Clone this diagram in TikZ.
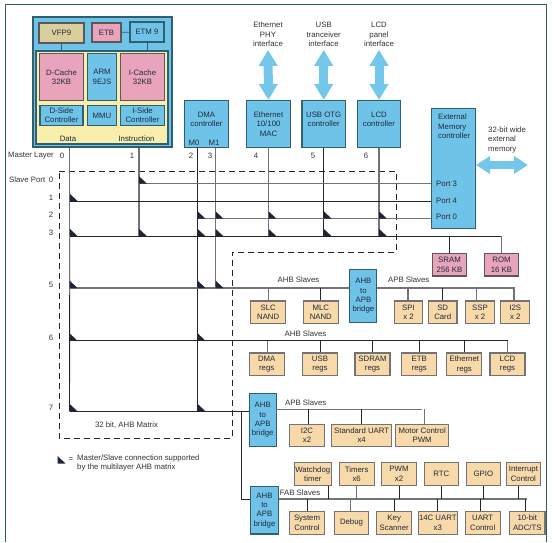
\documentclass[tikz,border=0pt]{standalone}
\usepackage{fontspec}
\setmainfont{Liberation Sans}
\usepackage{tikz}
\usetikzlibrary{arrows.meta,calc}
\definecolor{frameteal}{HTML}{2F5F5C}
\definecolor{edgeblue}{HTML}{2F6070}
\definecolor{socblue}{HTML}{6FC3E9}
\definecolor{socpink}{HTML}{E9A3BB}
\definecolor{soctan}{HTML}{D9CF9C}
\definecolor{socyellow}{HTML}{F9EEAB}
\definecolor{socorange}{HTML}{F8D9A9}
\definecolor{arrowblue}{HTML}{74C6EA}
\definecolor{inkdark}{HTML}{1F2A3A}
\newcommand{\xcon}[2]{\fill[inkdark!90!black] (#1,#2) -- ++(0,-7.5) -- ++(8,7.5) -- cycle;}

\begin{document}
\begin{tikzpicture}[
		x=1pt, y=-1pt,
		every node/.style={font=\fontsize{7.8}{9.4}\selectfont, text=inkdark, inner sep=0pt},
		box/.style={draw=edgeblue, line width=1.1pt, align=center},
		blue/.style={box, fill=socblue},
		pink/.style={box, fill=socpink, draw=black!65},
		tan/.style={box, fill=soctan, draw=black!65},
		slave/.style={box, fill=socorange, draw=black!55},
		lab/.style={align=center, text=black!80},
		bus/.style={draw=black!85, line width=0.9pt},
		busg/.style={draw=black!55, line width=1.1pt},
		wide/.style={draw=arrowblue, line width=9pt, {Triangle[length=16pt,width=18pt]}-{Triangle[length=16pt,width=18pt]}},
		matrix line/.style={dash pattern=on 6pt off 4pt, line width=0.9pt, draw=black!85}
		]
		\useasboundingbox (0,0) rectangle (554,542);
		
		% Frame
		\draw[frameteal, line width=1pt] (5.5,542) -- (5.5,4) -- (546,4) -- (546,542);
		
		% -------------------------
		% CPU block
		% -------------------------
		\node[blue, minimum width=139pt, minimum height=130pt] (cpu) at (102.5,82) {};
		\node[box, fill=socyellow, minimum width=132pt, minimum height=93pt] (core) at (102,97.5) {};
		\node[tan, minimum width=45pt, minimum height=20pt] (vfp) at (61.5,33) {VFP9};
		\node[pink, minimum width=29pt, minimum height=19pt] (etb) at (106.5,32.5) {ETB};
		\node[blue, minimum width=34pt, minimum height=20pt] (etm) at (147,32) {ETM 9};
		\node[pink, minimum width=44pt, minimum height=47pt] (dcache) at (61.5,77) {D-Cache\\32KB};
		\node[blue, minimum width=29pt, minimum height=47pt] (arm) at (102,77) {ARM\\9EJS};
		\node[pink, minimum width=44pt, minimum height=47pt] (icache) at (142.5,77) {I-Cache\\32KB};
		\node[blue, minimum width=43pt, minimum height=20pt] (dside) at (61.5,115.5) {D-Side\\Controller};
		\node[blue, minimum width=29.5pt, minimum height=20pt] (mmu) at (102,115.5) {MMU};
		\node[blue, minimum width=44pt, minimum height=20pt] (iside) at (142.5,115.5) {I-Side\\Controller};
		\node (data) at (68,139) {Data};
		\node (instr) at (136.5,139) {Instruction};
		\draw[edgeblue, line width=0.8pt] (vfp.south) -- (vfp.south |- core.north);
		\draw[edgeblue, line width=0.8pt] (etm.south) -- (etm.south |- core.north);
		\draw[edgeblue, line width=0.8pt] (etb) -- (etm);
		
		% -------------------------
		% Masters
		% -------------------------
		\node[blue, minimum width=44pt, minimum height=47pt] (dma) at (206.5,124) {DMA\\controller\\~};
		\node (mzero) at (194,143) {M0};
		\node (mone) at (214,143) {M1};
		\node[blue, minimum width=44pt, minimum height=47pt] (eth) at (268.5,124) {Ethernet\\10/100\\MAC};
		\node[blue, minimum width=43.5pt, minimum height=47pt] (usb) at (323.7,124) {USB OTG\\controller\\~};
		\node[blue, minimum width=43.5pt, minimum height=47pt] (lcd) at (379,124) {LCD\\controller\\~};
		\node[lab] (ethif) at (268,34.5) {Ethernet\\PHY\\interface};
		\node[lab] (usbif) at (323.7,34.5) {USB\\tranceiver\\interface};
		\node[lab] (lcdif) at (379,34.5) {LCD\\panel\\interface};
		\draw[wide] ([yshift=-3pt]ethif.south) -- (eth.north);
		\draw[wide] ([yshift=-3pt]usbif.south) -- (usb.north);
		\draw[wide] ([yshift=-3pt]lcdif.south) -- (lcd.north);
		
		% External memory
		\node[blue, anchor=north west, minimum width=44.5pt, minimum height=120pt] (emc) at (430.7,108) {};
		\node[align=left, anchor=north west] (emct) at (438,114) {External\\Memory\\controller};
		\node[anchor=west] (pthree) at (436,183.7) {Port 3};
		\node[anchor=west] (pfour) at (436,200.5) {Port 4};
		\node[anchor=west] (pzero) at (436,217) {Port 0};
		\node[lab, align=left, anchor=north west] (extl) at (488,126.5) {32-bit wide\\external\\memory};
		\coordinate (emcout) at (476,165);
		\coordinate (extout) at (528,165);
		\draw[wide, line width=8pt, {Triangle[length=14pt,width=17pt]}-{Triangle[length=14pt,width=17pt]}] (emcout) -- (extout);
		
		% -------------------------
		% Matrix labels
		% -------------------------
		\node[lab, anchor=west] (mlay) at (8,155.5) {Master Layer};
		\node[lab] at (62,155.5) {0};
		\node[lab] at (132,155.5) {1};
		\node[lab] at (191,155.5) {2};
		\node[lab] at (210,155.5) {3};
		\node[lab] at (256,155.5) {4};
		\node[lab] at (313,155.5) {5};
		\node[lab] at (366,155.5) {6};
		\node[lab, anchor=west] (slav) at (9,180) {Slave Port};
		\node[lab] at (51,180) {0};
		\node[lab] at (51,198) {1};
		\node[lab] at (51,215) {2};
		\node[lab] at (51,232.5) {3};
		\node[lab] at (51,285) {5};
		\node[lab] at (51,338) {6};
		\node[lab] at (51,407.5) {7};
		\node[lab] (mtxl) at (126.5,425) {32 bit, AHB Matrix};
		
		\draw[matrix line] (59,171.5) -- (396.3,171.5) -- (396.3,252.3) -- (232.3,252.3) -- (232.3,438) -- (59,438) -- cycle;
		
		% -------------------------
		% Slaves behind the matrix
		% -------------------------
		\node[pink, minimum width=34.5pt, minimum height=22.5pt] (sram) at (449.5,264.7) {SRAM\\256 KB};
		\node[pink, minimum width=34.5pt, minimum height=22.5pt] (rom) at (501.5,264.7) {ROM\\16 KB};
		
		\node[slave, minimum width=35pt, minimum height=22.5pt] (slc) at (268.2,312.2) {SLC\\NAND};
		\node[slave, minimum width=35pt, minimum height=22.5pt] (mlc) at (320.8,312.2) {MLC\\NAND};
		\node[blue, minimum width=27pt, minimum height=53pt] (brga) at (363.4,296) {AHB\\to\\APB\\bridge};
		\node[slave, minimum width=28.5pt, minimum height=22.5pt] (spi) at (408.5,312.2) {SPI\\x 2};
		\node[slave, minimum width=28.5pt, minimum height=22.5pt] (sdc) at (442.7,312.2) {SD\\Card};
		\node[slave, minimum width=28.5pt, minimum height=22.5pt] (ssp) at (480,312.2) {SSP\\x 2};
		\node[slave, minimum width=29pt, minimum height=22.5pt] (iis) at (515.2,312.2) {I2S\\x 2};
		\node[lab] (ahbl) at (298.5,280) {AHB Slaves};
		\node[lab] (apbl) at (408.7,280) {APB Slaves};
		
		\node[slave, minimum width=35pt, minimum height=22.7pt] (dmar) at (266.7,364.3) {DMA\\regs};
		\node[slave, minimum width=35pt, minimum height=22.7pt] (usbr) at (320,364.3) {USB\\regs};
		\node[slave, minimum width=35pt, minimum height=22.7pt] (sdrr) at (372.5,364.3) {SDRAM\\regs};
		\node[slave, minimum width=35pt, minimum height=22.7pt] (etbr) at (419.3,364.3) {ETB\\regs};
		\node[slave, minimum width=35pt, minimum height=22.7pt] (ethr) at (464.3,364.3) {Ethernet\\regs};
		\node[slave, minimum width=35pt, minimum height=22.7pt] (lcdr) at (507.5,364.3) {LCD\\regs};
		\node[lab] (ahbm) at (305.5,334) {AHB Slaves};
		
		% Bridge on port 7
		\node[blue, minimum width=27pt, minimum height=52.5pt] (brgb) at (262.7,420) {AHB\\to\\APB\\bridge};
		\node[slave, minimum width=34.6pt, minimum height=22pt] (iic) at (307,435.3) {I2C\\x2};
		\node[slave, minimum width=60pt, minimum height=22pt] (uart) at (361.7,435.3) {Standard UART\\x4};
		\node[slave, minimum width=53pt, minimum height=22pt] (motor) at (422.2,435.3) {Motor Control\\PWM};
		\node[lab] (apbb) at (305.7,403) {APB Slaves};
		
		% FAB slaves
		\node[blue, minimum width=27.6pt, minimum height=47.3pt] (brgc) at (264.5,510.3) {AHB\\to\\APB\\bridge};
		\node[lab] (fabl) at (300,493) {FAB Slaves};
		\node[slave, minimum width=37pt, minimum height=22.6pt] (wdt) at (312.8,474) {Watchdog\\timer};
		\node[slave, minimum width=34.7pt, minimum height=22.6pt] (tmr) at (356.7,474) {Timers\\x6};
		\node[slave, minimum width=34.7pt, minimum height=22.6pt] (pwm) at (399,474) {PWM\\x2};
		\node[slave, minimum width=34.7pt, minimum height=22.6pt] (rtc) at (441.4,474) {RTC};
		\node[slave, minimum width=34.7pt, minimum height=22.6pt] (gpio) at (483.4,474) {GPIO};
		\node[slave, minimum width=33.3pt, minimum height=22.6pt] (intc) at (523.4,474) {Interrupt\\Control};
		\node[slave, minimum width=34.6pt, minimum height=22.7pt] (sysc) at (307,522.7) {System\\Control};
		\node[slave, minimum width=34.4pt, minimum height=22.7pt] (dbg) at (351.5,522.7) {Debug};
		\node[slave, minimum width=35pt, minimum height=22.7pt] (key) at (394.2,522.7) {Key\\Scanner};
		\node[slave, minimum width=39pt, minimum height=22.7pt] (fcu) at (437.8,522.7) {14C UART\\x3};
		\node[slave, minimum width=34.7pt, minimum height=22.7pt] (ctl) at (482.7,522.7) {UART\\Control};
		\node[slave, minimum width=35.3pt, minimum height=22.7pt] (adc) at (527.3,522.7) {10-bit\\ADC/TS};
		
		% -------------------------
		% Master verticals
		% -------------------------
		\coordinate (mzb) at (69.8,147.5);
		\coordinate (mob) at (139,147.5);
		\coordinate (lone) at (69.8,201.3);
		\coordinate (lthree) at (69.8,236.3);
		\coordinate (lfive) at (69.5,288);
		\coordinate (lsix) at (69.5,340.7);
		\coordinate (lseven) at (69.5,411.3);
		\coordinate (nzero) at (139,183.7);
		\coordinate (nthree) at (139,236.3);
		\coordinate (mtwo) at (197.5,147.5);
		\coordinate (mthr) at (215.5,147.5);
		\coordinate (dtwo) at (197.5,218.7);
		\coordinate (efive) at (215.5,288);
		\coordinate (dseven) at (197.5,411.3);
		
		\draw[busg] (mzb) -- (lthree);
		\draw[bus] (lthree) -- (lseven);
		\draw[busg] (mob) -- (nthree);
		\draw[bus] (mtwo) -- (dseven);
		\draw[busg] (mthr) -- (efive);
		\draw[busg] (eth.south) -- (eth.south |- lthree);
		\draw[bus] (usb.south) -- (usb.south |- lthree);
		\draw[busg] (lcd.south) -- (lcd.south |- lthree);
		
		% -------------------------
		% Slave horizontals
		% -------------------------
		\draw[busg] (nzero) -- (nzero -| emc.west);
		\draw[bus] (lone) -- (lone -| emc.west);
		\draw[busg] (dtwo) -- (dtwo -| emc.west);
		\draw[bus] (lthree) -- (lthree -| rom.north);
		\draw[bus] (sram.north) -- (sram.north |- lthree);
		\draw[busg] (rom.north) -- (rom.north |- lthree);
		
		\draw[busg] (lfive) -- (lfive -| brga.west);
		\draw[busg] (lfive -| brga.east) -- (lfive -| iis.north);
		\draw[busg] (slc.north) -- (slc.north |- lfive);
		\draw[bus] (mlc.north) -- (mlc.north |- lfive);
		\draw[busg] ([xshift=-0.5pt]spi.north) -- ([xshift=-0.5pt]spi.north |- lfive);
		\draw[bus] (sdc.north) -- (sdc.north |- lfive);
		\draw[busg] ([xshift=-3.7pt]ssp.north) -- ([xshift=-3.7pt]ssp.north |- lfive);
		\draw[busg] ([xshift=-1.2pt]iis.north) -- ([xshift=-1.2pt]iis.north |- lfive);
		
		\draw[bus] (lsix) -- (lsix -| lcdr.north);
		\draw[busg] ([xshift=1pt]dmar.north) -- ([xshift=1pt]dmar.north |- lsix);
		\draw[bus] (usbr.north) -- (usbr.north |- lsix);
		\draw[bus] (sdrr.north) -- (sdrr.north |- lsix);
		\draw[bus] (etbr.north) -- (etbr.north |- lsix);
		\draw[bus] (ethr.north) -- (ethr.north |- lsix);
		\draw[busg] (lcdr.north) -- (lcdr.north |- lsix);
		
		% Port 7 and its bridges
		\coordinate (apbtop) at (276,409.3);
		\coordinate (fabj) at (241.5,411.3);
		\coordinate (fabk) at (241.5,499);
		\draw[bus] (lseven) -- (lseven -| brgb.west);
		\draw[busg] (apbtop) -- (apbtop -| motor.north);
		\draw[bus] ([xshift=1.3pt]iic.north) -- ([xshift=1.3pt]iic.north |- apbtop);
		\draw[bus] (uart.north) -- (uart.north |- apbtop);
		\draw[busg] ([xshift=2.5pt]motor.north) -- ([xshift=2.5pt]motor.north |- apbtop);
		\draw[bus] (fabj) -- (fabk) -- (fabk -| brgc.west);
		
		\draw[busg] (fabk -| brgc.east) -- (fabk -| adc.north);
		\draw[bus] ([xshift=15.5pt]wdt.south) -- ([xshift=15.5pt]wdt.south |- fabk);
		\draw[busg] (tmr.south) -- (tmr.south |- fabk);
		\draw[bus] (pwm.south) -- (pwm.south |- fabk);
		\draw[bus] (rtc.south) -- (rtc.south |- fabk);
		\draw[bus] (gpio.south) -- (gpio.south |- fabk);
		\draw[bus] ([xshift=-4.7pt]intc.south) -- ([xshift=-4.7pt]intc.south |- fabk);
		\draw[bus] (sysc.north) -- (sysc.north |- fabk);
		\draw[busg] ([xshift=-0.8pt]dbg.north) -- ([xshift=-0.8pt]dbg.north |- fabk);
		\draw[bus] (key.north) -- (key.north |- fabk);
		\draw[bus] (fcu.north) -- (fcu.north |- fabk);
		\draw[bus] ([xshift=-2.7pt]ctl.north) -- ([xshift=-2.7pt]ctl.north |- fabk);
		\draw[bus] ([xshift=-2pt]adc.north) -- ([xshift=-2pt]adc.north |- fabk);
		
		% -------------------------
		% Connection marks
		% -------------------------
		\xcon{139}{183.7}
		\xcon{69.8}{201.3}
		\xcon{197.5}{218.7}
		\xcon{215.5}{218.7}
		\xcon{268.5}{218.7}
		\xcon{323.7}{218.7}
		\xcon{379}{218.7}
		\xcon{69.8}{236.3}
		\xcon{139}{236.3}
		\xcon{197.5}{236.3}
		\xcon{215.5}{236.3}
		\xcon{268.5}{236.3}
		\xcon{323.7}{236.3}
		\xcon{379}{236.3}
		\xcon{69.5}{288}
		\xcon{197.5}{288}
		\xcon{215.5}{288}
		\xcon{69.5}{340.7}
		\xcon{197.5}{340.7}
		\xcon{69.5}{411.3}
		\xcon{197.5}{411.3}
		
		% Legend
		\xcon{57.5}{463.5}
		\node[lab] (legeq) at (71,459.5) {=};
		\node[lab, align=left, anchor=north west] (legt) at (77,454.5) {Master/Slave connection supported\\by the multilayer AHB matrix};
		
	\end{tikzpicture}
\end{document}
